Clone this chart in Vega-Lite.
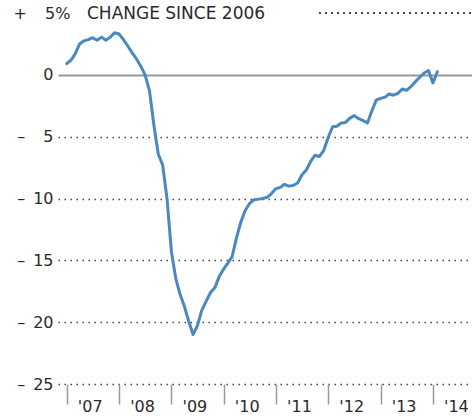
{
  "$schema": "https://vega.github.io/schema/vega-lite/v6.json",
  "width": 414,
  "height": 371,
  "autosize": {"type": "none"},
  "padding": {"left": 58, "top": 13, "right": 0, "bottom": 35},
  "background": "white",
  "config": {"view": {"stroke": null}, "font": "DejaVu Sans"},
  "title": {"text": "CHANGE SINCE 2006", "anchor": "start", "frame": "group", "dx": 29, "offset": -26, "baseline": "middle", "fontSize": 17, "fontWeight": "normal", "color": "#2a2a2a", "font": "DejaVu Sans"},
  "data": {"values": [
    {"date": "2007-01-01", "change": 0.9},
    {"date": "2007-02-01", "change": 1.2},
    {"date": "2007-03-01", "change": 1.7},
    {"date": "2007-04-01", "change": 2.5},
    {"date": "2007-05-01", "change": 2.75},
    {"date": "2007-06-01", "change": 2.85},
    {"date": "2007-07-01", "change": 3.0},
    {"date": "2007-08-01", "change": 2.8},
    {"date": "2007-09-01", "change": 3.05},
    {"date": "2007-10-01", "change": 2.8},
    {"date": "2007-11-01", "change": 3.05},
    {"date": "2007-12-01", "change": 3.4},
    {"date": "2008-01-01", "change": 3.3},
    {"date": "2008-02-01", "change": 2.85},
    {"date": "2008-03-01", "change": 2.35},
    {"date": "2008-04-01", "change": 1.8},
    {"date": "2008-05-01", "change": 1.3},
    {"date": "2008-06-01", "change": 0.7},
    {"date": "2008-07-01", "change": 0.0},
    {"date": "2008-08-01", "change": -1.3},
    {"date": "2008-09-01", "change": -4.1},
    {"date": "2008-10-01", "change": -6.4},
    {"date": "2008-11-01", "change": -7.3},
    {"date": "2008-12-01", "change": -10.0},
    {"date": "2009-01-01", "change": -14.3},
    {"date": "2009-02-01", "change": -16.5},
    {"date": "2009-03-01", "change": -17.7},
    {"date": "2009-04-01", "change": -18.7},
    {"date": "2009-05-01", "change": -19.9},
    {"date": "2009-06-01", "change": -21.0},
    {"date": "2009-07-01", "change": -20.3},
    {"date": "2009-08-01", "change": -19.05},
    {"date": "2009-09-01", "change": -18.3},
    {"date": "2009-10-01", "change": -17.6},
    {"date": "2009-11-01", "change": -17.2},
    {"date": "2009-12-01", "change": -16.3},
    {"date": "2010-01-01", "change": -15.7},
    {"date": "2010-02-01", "change": -15.2},
    {"date": "2010-03-01", "change": -14.7},
    {"date": "2010-04-01", "change": -13.15},
    {"date": "2010-05-01", "change": -11.9},
    {"date": "2010-06-01", "change": -10.95},
    {"date": "2010-07-01", "change": -10.4},
    {"date": "2010-08-01", "change": -10.1},
    {"date": "2010-09-01", "change": -10.05},
    {"date": "2010-10-01", "change": -10.0},
    {"date": "2010-11-01", "change": -9.9},
    {"date": "2010-12-01", "change": -9.6},
    {"date": "2011-01-01", "change": -9.2},
    {"date": "2011-02-01", "change": -9.1},
    {"date": "2011-03-01", "change": -8.85},
    {"date": "2011-04-01", "change": -9.0},
    {"date": "2011-05-01", "change": -8.95},
    {"date": "2011-06-01", "change": -8.75},
    {"date": "2011-07-01", "change": -8.1},
    {"date": "2011-08-01", "change": -7.7},
    {"date": "2011-09-01", "change": -7.0},
    {"date": "2011-10-01", "change": -6.5},
    {"date": "2011-11-01", "change": -6.6},
    {"date": "2011-12-01", "change": -6.1},
    {"date": "2012-01-01", "change": -5.05},
    {"date": "2012-02-01", "change": -4.2},
    {"date": "2012-03-01", "change": -4.15},
    {"date": "2012-04-01", "change": -3.9},
    {"date": "2012-05-01", "change": -3.85},
    {"date": "2012-06-01", "change": -3.5},
    {"date": "2012-07-01", "change": -3.3},
    {"date": "2012-08-01", "change": -3.55},
    {"date": "2012-09-01", "change": -3.7},
    {"date": "2012-10-01", "change": -3.9},
    {"date": "2012-11-01", "change": -2.9},
    {"date": "2012-12-01", "change": -2.05},
    {"date": "2013-01-01", "change": -1.9},
    {"date": "2013-02-01", "change": -1.8},
    {"date": "2013-03-01", "change": -1.55},
    {"date": "2013-04-01", "change": -1.65},
    {"date": "2013-05-01", "change": -1.5},
    {"date": "2013-06-01", "change": -1.15},
    {"date": "2013-07-01", "change": -1.25},
    {"date": "2013-08-01", "change": -0.95},
    {"date": "2013-09-01", "change": -0.55},
    {"date": "2013-10-01", "change": -0.2},
    {"date": "2013-11-01", "change": 0.15},
    {"date": "2013-12-01", "change": 0.35},
    {"date": "2014-01-01", "change": -0.65},
    {"date": "2014-02-01", "change": 0.25}
  ]},
  "layer": [
    {
      "mark": {"type": "line", "stroke": "#4a88c0", "strokeWidth": 3, "strokeJoin": "round", "strokeCap": "round"},
      "encoding": {
        "x": {
          "field": "date", "type": "temporal",
          "scale": {"type": "utc", "domain": [{"year": 2006, "month": 11, "date": 1, "utc": true}, {"year": 2014, "month": 10, "date": 1, "utc": true}]},
          "axis": {
            "title": null, "domain": false, "grid": false, "ticks": true,
            "values": [{"year": 2007, "utc": true}, {"year": 2008, "utc": true}, {"year": 2009, "utc": true}, {"year": 2010, "utc": true}, {"year": 2011, "utc": true}, {"year": 2012, "utc": true}, {"year": 2013, "utc": true}, {"year": 2014, "utc": true}],
            "tickSize": 20, "tickColor": "#999", "tickWidth": 1.5, "tickOpacity": 1,
            "labelExpr": "\"'\" + utcFormat(datum.value, '%y')",
            "labelOffset": 23, "labelPadding": -6, "labelFlush": false, "labelOverlap": false, "labelBound": false,
            "labelFont": "DejaVu Sans", "labelFontSize": 16, "labelColor": "#2a2a2a"
          }
        },
        "y": {
          "field": "change", "type": "quantitative",
          "scale": {"domain": [-25, 5], "nice": false, "zero": false},
          "axis": {
            "title": null, "domain": false, "ticks": false,
            "values": [-25, -20, -15, -10, -5, 0, 5],
            "labelExpr": "datum.value == 0 ? '0' : datum.value > 0 ? '+\u2002\u20075%' : '\u2013\u2002' + (abs(datum.value) < 10 ? '\u2007' : '') + abs(datum.value)",
            "labelPadding": {"condition": {"test": "datum.value == 5", "value": -12}, "value": 5},
            "labelFont": "DejaVu Sans", "labelFontSize": 16, "labelColor": "#2a2a2a",
            "grid": true,
            "gridColor": {"condition": {"test": "datum.value == 0", "value": "#999"}, "value": "#444"},
            "gridDash": {"condition": {"test": "datum.value == 0", "value": []}, "value": [1.5, 4.5]},
            "gridWidth": {"condition": {"test": "datum.value == 0", "value": 2}, "value": 1.5},
            "gridOpacity": {"condition": {"test": "datum.value == 5", "value": 0}, "value": 1}
          }
        }
      }
    },
    {
      "mark": {"type": "rule", "stroke": "#444", "strokeWidth": 1.5, "strokeDash": [1.5, 4.5]},
      "encoding": {
        "y": {"datum": 5},
        "x": {"datum": {"year": 2011, "month": 11, "date": 1, "utc": true}},
        "x2": {"datum": {"year": 2014, "month": 10, "date": 1, "utc": true}}
      }
    }
  ]
}
